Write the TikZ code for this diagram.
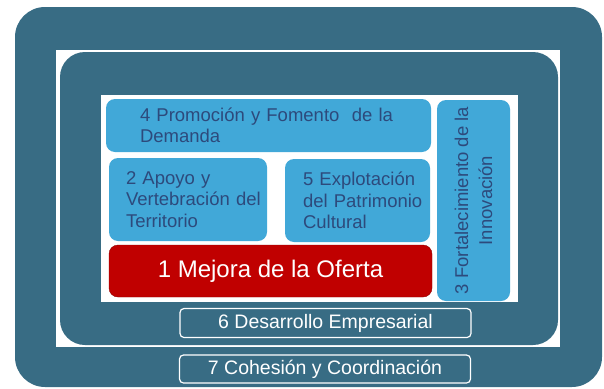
\documentclass[tikz,border=0pt]{standalone}
\usepackage{fontspec}
\setmainfont{Liberation Sans}
\definecolor{petrol}{HTML}{386C84}
\definecolor{celeste}{HTML}{41A8D8}
\definecolor{navy}{HTML}{2D4A7C}
\definecolor{rojo}{HTML}{C00000}

\begin{document}
\begin{tikzpicture}[x=1pt, y=-1pt,
    every node/.style={font=\fontsize{18.5}{21.5}\selectfont, inner sep=0pt},
    eje/.style={fill=celeste, rounded corners=9pt, text=navy, align=left},
    franja/.style={draw=white, line width=1.2pt, rounded corners=4pt, fill=petrol, text=white, minimum width=291pt, minimum height=29pt, font=\fontsize{19.5}{22}\selectfont}]
    \useasboundingbox (0,0) rectangle (604,388);
    % marcos exteriores
    \node[fill=petrol, rounded corners=30pt, minimum width=587pt, minimum height=380pt] (marco7) at (308.5,197) {};
    \node[fill=white, minimum width=504pt, minimum height=297pt] (blanco6) at (308,198.5) {};
    \node[fill=petrol, rounded corners=25pt, minimum width=498pt, minimum height=293pt] (marco6) at (309,198.5) {};
    \node[fill=white, minimum width=417pt, minimum height=207pt] (nucleo) at (309.5,198.5) {};
    % ejes
    \node[eje, minimum width=325pt, minimum height=53pt, text width=257pt] (eje4) at (268.5,125.5) {\mbox{4 Promoción y Fomento\ \ de la}\\\mbox{Demanda}};
    \node[eje, minimum width=158pt, minimum height=83pt, text width=124pt] (eje2) at (188,199.5) {\mbox{2 Apoyo y}\\\mbox{Vertebración del}\\\mbox{Territorio}};
    \node[eje, minimum width=145pt, minimum height=83pt, text width=109pt] (eje5) at (357.5,200.5) {\mbox{5 Explotación}\\\mbox{del Patrimonio}\\\mbox{Cultural}};
    \node[fill=rojo, draw=rojo!75!black, rounded corners=9pt, minimum width=323pt, minimum height=52pt, text=white, font=\fontsize{24}{28}\selectfont] (eje1) at (270.5,271) {1 Mejora de la Oferta};
    \node[eje, rotate=90, align=center, minimum width=201pt, minimum height=73pt, font=\fontsize{18.5}{24}\selectfont] (eje3) at (473.5,200.5) {3 Fortalecimiento de la\\Innovación};
    % franjas inferiores
    \node[franja] (eje6) at (325.5,323) {6 Desarrollo Empresarial};
    \node[franja, minimum height=28pt] (eje7) at (325,369) {7 Cohesión y Coordinación};
\end{tikzpicture}
\end{document}
